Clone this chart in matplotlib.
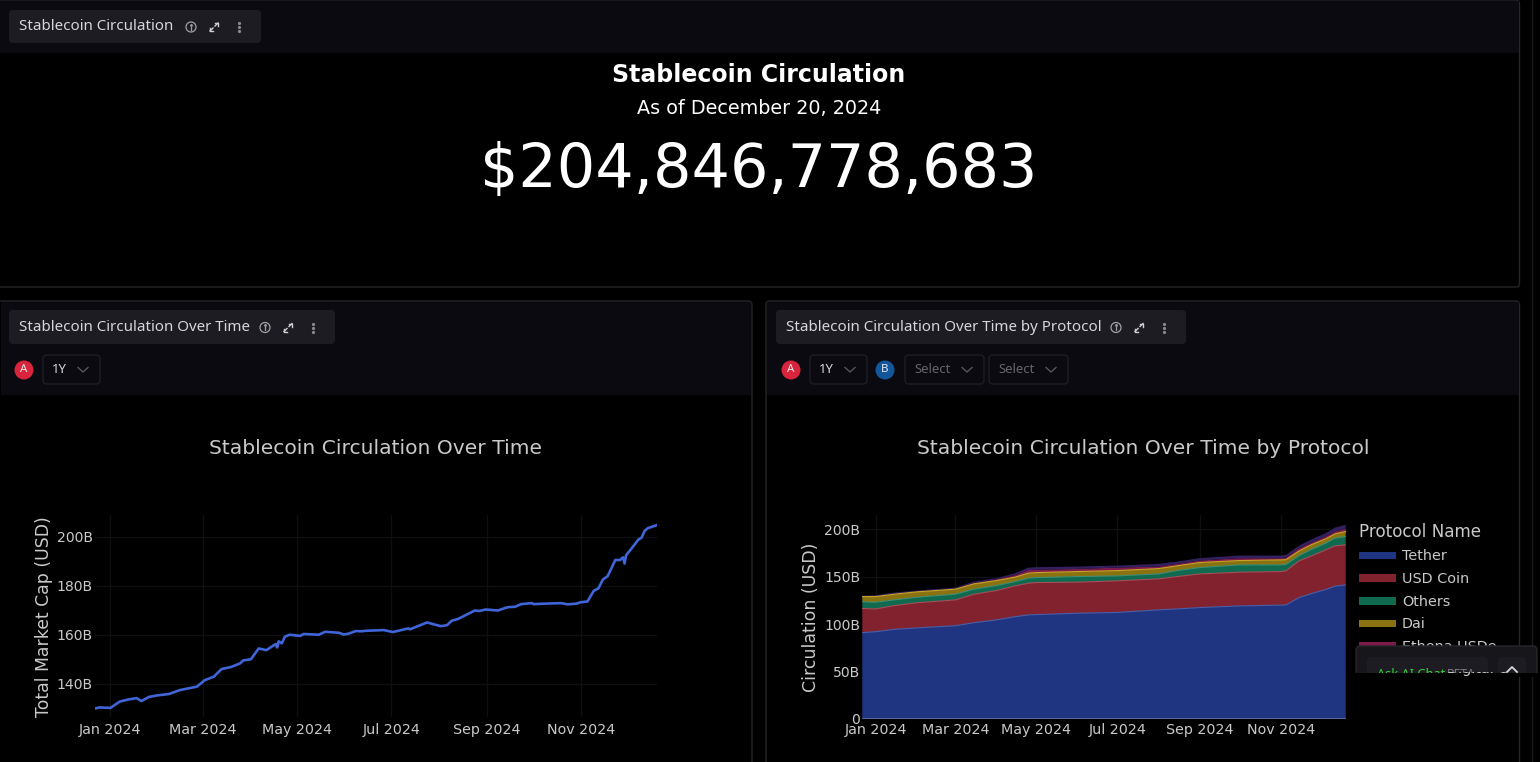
import pandas as pd
import matplotlib
matplotlib.use("Agg")
import matplotlib.pyplot as plt
import matplotlib.dates as mdates
from matplotlib.patches import FancyBboxPatch, Rectangle, Circle
from matplotlib.ticker import FuncFormatter

# total circulation, billions USD
total_dates = ["2023-12-22", "2023-12-25", "2024-01-01", "2024-01-07", "2024-01-13", "2024-01-18", "2024-01-21",
               "2024-01-26", "2024-01-31", "2024-02-08", "2024-02-15", "2024-02-26", "2024-03-02", "2024-03-08",
               "2024-03-13", "2024-03-19", "2024-03-25", "2024-03-27", "2024-04-01", "2024-04-06", "2024-04-11",
               "2024-04-17", "2024-04-18", "2024-04-19", "2024-04-21", "2024-04-23", "2024-04-26", "2024-05-03",
               "2024-05-05", "2024-05-15", "2024-05-19", "2024-05-28", "2024-05-31", "2024-06-03", "2024-06-08",
               "2024-06-12", "2024-06-14", "2024-06-26", "2024-07-02", "2024-07-12", "2024-07-13", "2024-07-24",
               "2024-08-02", "2024-08-06", "2024-08-09", "2024-08-13", "2024-08-24", "2024-08-27", "2024-08-31",
               "2024-09-08", "2024-09-13", "2024-09-15", "2024-09-19", "2024-09-23", "2024-09-30", "2024-10-01",
               "2024-10-09", "2024-10-19", "2024-10-23", "2024-10-29", "2024-10-31", "2024-11-05", "2024-11-09",
               "2024-11-12", "2024-11-15", "2024-11-18", "2024-11-23", "2024-11-26", "2024-11-28", "2024-11-29",
               "2024-11-30", "2024-12-03", "2024-12-08", "2024-12-10", "2024-12-12", "2024-12-14", "2024-12-20"]
total_values = [129.9, 130.3, 130.1, 132.7, 133.6, 134.1, 132.9,
                134.6, 135.2, 135.8, 137.4, 138.8, 141.4, 142.9,
                146.0, 146.8, 148.3, 149.5, 150.0, 154.4, 153.7,
                156.2, 154.8, 157.3, 156.5, 159.2, 160.0, 159.5,
                160.3, 160.0, 161.2, 160.8, 160.1, 160.4, 161.5,
                161.4, 161.6, 161.9, 161.1, 162.6, 162.2, 165.0,
                163.5, 163.9, 165.7, 166.4, 169.9, 169.7, 170.3,
                169.9, 171.0, 171.3, 171.4, 172.5, 172.9, 172.5,
                172.7, 172.9, 172.4, 172.7, 173.2, 173.6, 177.9,
                178.9, 182.6, 183.9, 190.5, 190.5, 191.6, 189.1,
                192.5, 194.8, 198.9, 199.6, 202.4, 203.5, 204.8]

# circulation by protocol, billions USD
protocol_dates = ["2023-12-22", "2024-01-01", "2024-01-15", "2024-02-01", "2024-03-01", "2024-03-15", "2024-04-01",
                  "2024-04-15", "2024-04-25", "2024-05-01", "2024-06-01", "2024-07-01", "2024-08-01", "2024-08-15",
                  "2024-09-01", "2024-10-01", "2024-11-01", "2024-11-05", "2024-11-15", "2024-11-25", "2024-12-05",
                  "2024-12-12", "2024-12-20"]
tether = [91, 92, 94.5, 96, 98.3, 101.5, 104.4, 107.8, 109.7, 110, 111.5, 112.3, 115, 116, 117.4, 119.2, 120, 120.2,
          128, 132.5, 136.5, 140, 141.3]
usd_coin = [25.5, 24, 25, 26.5, 27.2, 30, 31, 32.5, 33.4, 33.8, 32.7, 33.3, 32.7, 34.1, 35.5, 35.5, 35.4, 35.9,
            38.7, 39.8, 41.8, 42.5, 42.2]
others = [7, 7, 6, 5.8, 6, 5.3, 5.2, 4.5, 5.3, 5.2, 5.9, 5.2, 5.2, 6.3, 6.7, 7.7, 7, 6.8, 5.6, 7, 7, 8.1, 8.8]
dai = [5.5, 6, 6, 5.7, 5.3, 5.6, 5.3, 4.7, 5.3, 5.3, 5.3, 5.6, 5.6, 5, 5.3, 4.6, 5.3, 5, 4.9, 4.9, 4.6, 4.5, 5.3]
ethena = [0.2, 0.2, 0.3, 0.4, 0.6, 1, 1.3, 2.1, 3.3, 2.9, 2.8, 3.2, 2.2, 2.1, 2.1, 2.5, 1.8, 2.1, 2.8, 2.1, 2.4,
          2.5, 2.8]
first_digital = [0.8, 1.3, 1.5, 1, 1.1, 1.4, 1.2, 2.1, 2.6, 2.8, 2.5, 2.1, 2.8, 2.4, 2.5, 2.8, 2.8, 3, 2.8, 3.6,
                 3.6, 4.2, 4.2]
protocol_names = ["Tether", "USD Coin", "Others", "Dai", "Ethena USDe", "First Digital USD"]
protocol_colors = ["#1F3582", "#82222F", "#0F6A50", "#8A7210", "#7D1B4B", "#33205F"]
edge_colors = ["#4A5FA8", "#A5505A", "#3F8F76", "#C9A52A", "#A04070", "#5A4090"]

y_ticks_left = [140, 160, 180, 200]
y_ticks_right = [0, 50, 100, 150, 200]
x_ticks = ["2024-01-01", "2024-03-01", "2024-05-01", "2024-07-01", "2024-09-01", "2024-11-01"]

W, H = 1540, 762
TXT = "#C9C9C9"
GRID = "#0F0F11"
UI_FONT = "Noto Sans"

fig = plt.figure(figsize=(W / 100, H / 100), dpi=100, facecolor="black")

# page furniture goes on an axes in pixel units
bg = fig.add_axes([0, 0, 1, 1], zorder=0)
bg.set_xlim(0, W)
bg.set_ylim(H, 0)
bg.axis("off")


def box(ax, x0, y0, x1, y1, fc, ec="none", r=4, lw=1.0, z=1):
    p = FancyBboxPatch((x0 + r, y0 + r), x1 - x0 - 2 * r, y1 - y0 - 2 * r, boxstyle="round,pad=%d,rounding_size=%d" % (r, r),
                       fc=fc, ec=ec, lw=lw, zorder=z)
    ax.add_patch(p)


def chip(ax, x0, x1, y0, y1, label):
    box(ax, x0, y0, x1, y1, "#1C1C22", z=3)
    ax.text(x0 + 10, (y0 + y1) / 2 + 0.3, label, color="#D6D6D8", fontsize=10.9, family=UI_FONT, va="center", ha="left", zorder=4)
    yc = (y0 + y1) / 2 + 0.5
    # info, expand and menu icons
    ix = x1 - 70
    ax.add_patch(Circle((ix, yc), 5, fc="none", ec="#A0A0A4", lw=0.9, zorder=4))
    ax.plot([ix, ix], [yc - 0.5, yc + 2.5], color="#A0A0A4", lw=0.9, zorder=4)
    ax.plot([ix], [yc - 2.5], marker="o", ms=1, color="#A0A0A4", zorder=4)
    ex = x1 - 47
    for s in (1, -1):
        ax.plot([ex + s, ex + 4 * s], [yc - s, yc - 4 * s], color="#D0D0D0", lw=1, zorder=4)
        ax.plot([ex + s, ex + 4 * s, ex + 4 * s], [yc - 4 * s, yc - 4 * s, yc - s], color="#D0D0D0", lw=1, zorder=4)
    for dy in (-4, 0, 4):
        ax.plot([x1 - 22], [yc + dy], marker="o", ms=1.3, color="#8A8A8E", zorder=4)


def dropdown(ax, x0, x1, label, col):
    box(ax, x0, 355, x1, 384, "#0A0A10", ec="#1E1E24", z=3)
    ax.text(x0 + 9, 369.5, label, color=col, fontsize=9.4, family=UI_FONT, va="center", ha="left", zorder=4)
    cx = x1 - 17
    ax.plot([cx - 5, cx, cx + 5], [367.5, 372, 367.5], color="#55555A", lw=1, zorder=4)


def badge(ax, x, label, col):
    ax.add_patch(Circle((x, 370), 9.5, fc=col, ec="none", zorder=4))
    ax.text(x, 370, label, color="#E8E8E8", fontsize=8.3, family=UI_FONT, ha="center", va="center", zorder=5)


# top panel
box(bg, -6, 0, 1519.5, 287, "black", ec="#26262B")
bg.add_patch(Rectangle((0, 1), 1519, 52, fc="#0A0A10", ec="none", zorder=2))
chip(bg, 9, 261, 10, 43, "Stablecoin Circulation")
bg.text(758.5, 75, "Stablecoin Circulation", color="white", fontsize=17, fontweight="bold", ha="center", va="center", zorder=5)
bg.text(759.5, 108, "As of December 20, 2024", color="white", fontsize=13.8, ha="center", va="center", zorder=5)
bg.text(759, 170, "$204,846,778,683", color="white", fontsize=43.5, ha="center", va="center", zorder=5)

# lower panels
for x0, x1 in [(-6, 752), (766, 1519.5)]:
    box(bg, x0, 301, x1, 790, "black", ec="#26262B")
    bg.add_patch(Rectangle((max(x0, 0) + 1, 302), x1 - max(x0, 0) - 2, 93, fc="#0A0A10", ec="none", zorder=2))

chip(bg, 9, 335, 310, 344, "Stablecoin Circulation Over Time")
badge(bg, 24, "A", "#D8243C")
dropdown(bg, 43, 100, "1Y", "#D6D6D8")
bg.text(375.5, 448, "Stablecoin Circulation Over Time", color=TXT, fontsize=14.6, ha="center", va="center", zorder=5)

chip(bg, 776, 1186, 310, 344, "Stablecoin Circulation Over Time by Protocol")
badge(bg, 791, "A", "#D8243C")
dropdown(bg, 810, 867, "1Y", "#D6D6D8")
badge(bg, 885, "B", "#14569B")
dropdown(bg, 905, 984, "Select", "#66666A")
dropdown(bg, 989, 1068, "Select", "#66666A")
bg.text(1143, 448, "Stablecoin Circulation Over Time by Protocol", color=TXT, fontsize=14.6, ha="center", va="center", zorder=5)
bg.plot([1531.5, 1531.5], [0, H], color="#1A1A1E", lw=1, zorder=1)

billions = FuncFormatter(lambda v, pos: "0" if v == 0 else "%dB" % v)


def style_axes(ax, ticks, pad):
    ax.set_facecolor("none")
    for s in ax.spines.values():
        s.set_visible(False)
    ax.grid(True, color=GRID, lw=1.0)
    ax.set_axisbelow(True)
    ax.set_yticks(ticks)
    ax.yaxis.set_major_formatter(billions)
    ax.set_xticks(pd.to_datetime(x_ticks))
    ax.xaxis.set_major_formatter(mdates.DateFormatter("%b %Y"))
    ax.tick_params(axis="both", length=0, labelcolor=TXT)
    ax.tick_params(axis="x", pad=pad, labelsize=10.3)
    ax.tick_params(axis="y", pad=1.5, labelsize=10.1)


# line chart
ax1 = fig.add_axes([95 / W, 1 - 717 / H, 562 / W, 202 / H], zorder=2)
d1 = pd.to_datetime(total_dates)
ax1.plot(d1, total_values, color="#4065D8", lw=1.9, solid_joinstyle="round")
ax1.set_xlim(d1[0], d1[-1])
ax1.set_ylim(126.4, 208.9)
style_axes(ax1, y_ticks_left, 4.5)
fig.text(44 / W, 1 - 617 / H, "Total Market Cap (USD)", rotation=90, color=TXT, fontsize=12.4, ha="center", va="center")

# stacked area chart
ax2 = fig.add_axes([862.3 / W, 1 - 719 / H, 483.4 / W, 204 / H], zorder=2)
d2 = pd.to_datetime(protocol_dates)
layers = [tether, usd_coin, others, dai, ethena, first_digital]
polys = ax2.stackplot(d2, layers, labels=protocol_names, colors=protocol_colors, linewidth=0)
cum = pd.DataFrame(layers).T.cumsum(axis=1)
for i in range(4):
    ax2.plot(d2, cum[i], color=edge_colors[i], lw=0.8, zorder=3)
ax2.plot(d2, [0] * len(d2), color="#5F6F9F", lw=2, zorder=3, clip_on=True)
ax2.set_xlim(d2[0], d2[-1])
ax2.set_ylim(0, 215)
style_axes(ax2, y_ticks_right, 2.6)
fig.text(811 / W, 1 - 617 / H, "Circulation (USD)", rotation=90, color=TXT, fontsize=12.5, ha="center", va="center")

leg = ax2.legend(loc="upper left", bbox_to_anchor=(1.0105, 1.0035), frameon=False, title="Protocol Name",
                 fontsize=10.1, labelcolor=TXT, handlelength=2.6, handleheight=0.45, handletextpad=0.45,
                 labelspacing=0.62, borderaxespad=0.3, borderpad=0.3, alignment="left")
leg.get_title().set_color(TXT)
leg.get_title().set_fontsize(12.1)
for t in leg.get_texts():
    t.set_fontsize(10.4)

# chat widget floats over the legend
top = fig.add_axes([0, 0, 1, 1], zorder=5)
top.set_xlim(0, W)
top.set_ylim(H, 0)
top.axis("off")
box(top, 1356, 646, 1537, 676, "#16161B", ec="#26262B", z=3)
box(top, 1367, 657, 1488, 676, "#1C1C22", z=4)
box(top, 1498, 657, 1526, 676, "#1C1C22", z=4)
top.add_patch(Rectangle((1350, 672.5), 190, 4, fc="black", ec="none", zorder=5))


def clipped_text(x, y, s, col, size, family, clip):
    t = top.text(x, y, s, color=col, fontsize=size, family=family, ha="left", va="center", zorder=6)
    t.set_clip_on(True)
    t.set_clip_path(Rectangle(clip[:2], clip[2], clip[3], transform=top.transData))


clipped_text(1377, 674.5, "Ask AI Chat", "#35D03A", 9.2, UI_FONT, (1350, 640, 190, 32.5))
clipped_text(1447, 674.5, "BETA", "#77777C", 8.6, UI_FONT, (1350, 640, 190, 32.5))
clipped_text(1447, 669.5, "Digital USD", TXT, 10.4, "DejaVu Sans", (1447, 671.5, 62, 6))
top.plot([1507, 1512, 1517], [672, 667, 672], color="#D8D8D8", lw=1.3, zorder=7)

fig.savefig("out.png", dpi=100, facecolor="black")
